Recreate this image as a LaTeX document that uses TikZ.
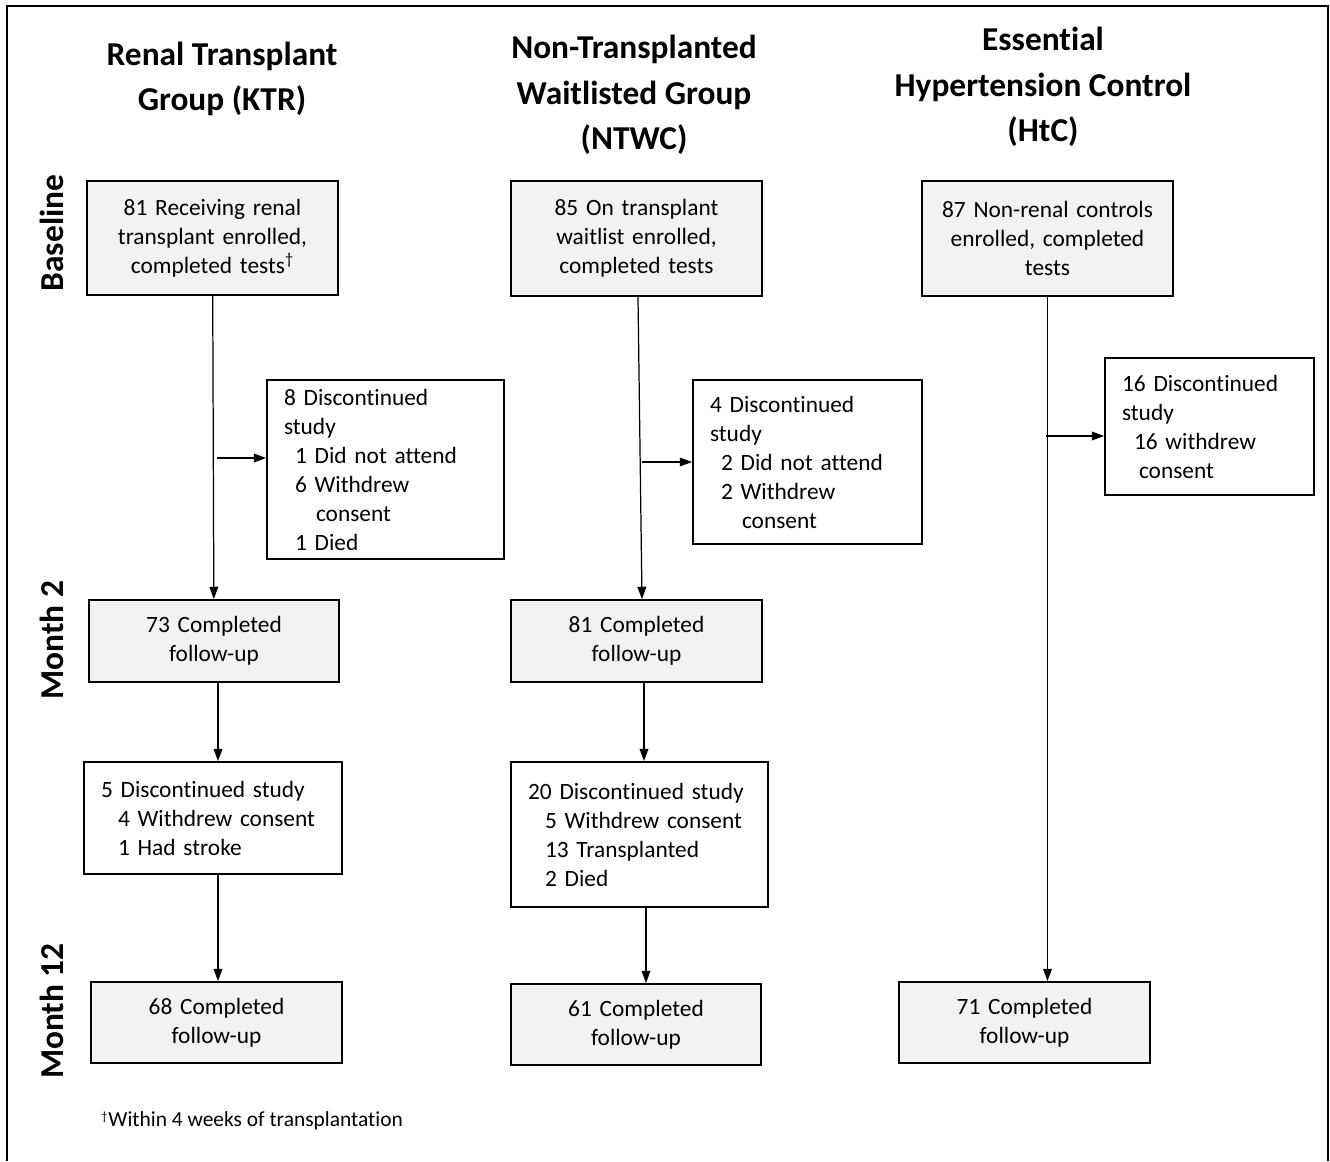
\documentclass[tikz,border=0pt]{standalone}
\usepackage{fontspec}
\setmainfont[Ligatures=NoCommon]{Carlito}
\usetikzlibrary{arrows.meta}
\definecolor{boxgrey}{HTML}{F2F2F2}

\begin{document}
\begin{tikzpicture}[
            x = 0.02cm, y = -0.02cm, % one unit = one pixel of the figure
            > = {Triangle[length=7pt,width=5pt]}, % arrow head style
            line width = 0.7pt, % line style
            every node/.style = {font=\fontsize{13.3}{16.5}\selectfont},
            greybox/.style = {draw=black, line width=1.1pt, fill=boxgrey, align=center, inner xsep=0.16cm},
            dropbox/.style = {draw=black, line width=1.1pt, fill=white, align=left, inner xsep=0.34cm},
            heading/.style = {font=\fontsize{19}{26}\selectfont\bfseries, align=center},
            phase/.style = {font=\fontsize{19}{22}\selectfont\bfseries, rotate=90}
        ]

\useasboundingbox (0,0) rectangle (1330,1161);
\draw[line width=1.2pt] (7,1161) -- (7,6) -- (1328,6) -- (1328,1161);

% column headings
\node[heading] (ktrhead) at (222,79) {Renal Transplant\\Group (KTR)};
\node[heading] (ntwchead) at (634,95) {Non-Transplanted\\Waitlisted Group\\(NTWC)};
\node[heading] (htchead) at (1043,87) {Essential\\Hypertension Control\\(HtC)};

% time points
\node[phase] (baseline) at (52,233) {Baseline};
\node[phase] (month2) at (52,640) {Month 2};
\node[phase] (month12) at (52,1011) {Month 12};

% baseline
\node[greybox, text width=4.7cm, minimum height=2.28cm] (ktrbase) at (212.5,238) {81 Receiving renal\\transplant enrolled,\\completed tests\textsuperscript{†}};
\node[greybox, text width=4.7cm, minimum height=2.3cm] (ntwcbase) at (636.5,238.5) {85 On transplant\\waitlist enrolled,\\completed tests};
\node[greybox, text width=4.7cm, minimum height=2.3cm] (htcbase) at (1047.5,238.5) {87 Non-renal controls\\enrolled, completed\\tests};

% dropped out before month 2
\node[dropbox, text width=4.06cm, minimum height=3.58cm] (ktrdrop) at (385.5,469.5) {8 Discontinued\\study\\\hspace*{0.22cm}1 Did not attend\\\hspace*{0.22cm}6 Withdrew\\\hspace*{0.64cm}consent\\\hspace*{0.22cm}1 Died};
\node[dropbox, text width=3.90cm, minimum height=3.28cm] (ntwcdrop) at (807.5,462) {4 Discontinued\\study\\\hspace*{0.22cm}2 Did not attend\\\hspace*{0.22cm}2 Withdrew\\\hspace*{0.64cm}consent};
\node[dropbox, text width=3.50cm, minimum height=2.74cm] (htcdrop) at (1209.5,426.5) {16 Discontinued\\study\\\hspace*{0.24cm}16 withdrew\\\hspace*{0.34cm}consent};

% month 2
\node[greybox, text width=4.68cm, minimum height=1.64cm] (ktrm2) at (214,641) {73 Completed\\follow-up};
\node[greybox, text width=4.7cm, minimum height=1.64cm] (ntwcm2) at (636.5,641) {81 Completed\\follow-up};

% dropped out before month 12
\node[dropbox, text width=4.48cm, minimum height=2.24cm] (ktrdisc) at (213,818) {5 Discontinued study\\\hspace*{0.34cm}4 Withdrew consent\\\hspace*{0.34cm}1 Had stroke};
\node[dropbox, text width=4.46cm, minimum height=2.9cm] (ntwcdisc) at (639.5,834.5) {20 Discontinued study\\\hspace*{0.34cm}5 Withdrew consent\\\hspace*{0.34cm}13 Transplanted\\\hspace*{0.34cm}2 Died};

% month 12
\node[greybox, text width=4.7cm, minimum height=1.62cm] (ktrm12) at (216.5,1022.5) {68 Completed\\follow-up};
\node[greybox, text width=4.68cm, minimum height=1.62cm] (ntwcm12) at (636,1024.5) {61 Completed\\follow-up};
\node[greybox, text width=4.7cm, minimum height=1.62cm] (htcm12) at (1024.5,1022.5) {71 Completed\\follow-up};

\node[anchor=west, font=\fontsize{12.2}{15}\selectfont] (note) at (95,1121) {{\fontsize{10}{12}\selectfont\textsuperscript{†}}Within 4 weeks of transplantation};

\coordinate (ktrsplit) at (217,458);
\coordinate (ntwcsplit) at (642,462);
\coordinate (htcsplit) at (1046,436);

 \path [->] (ktrbase) edge (ktrm2);
 \path [->] (ntwcbase.south -| 638,0) edge (ntwcm2.north -| 642,0);
 \path [->] (htcbase.south) edge (htcbase.south |- htcm12.north);
 \path [->] (ktrsplit) edge (ktrsplit -| ktrdrop.west);
 \path [->] (ntwcsplit) edge (ntwcsplit -| ntwcdrop.west);
 \path [->] (htcsplit) edge (htcsplit -| htcdrop.west);
 \path [->] (ktrm2.south -| 218,0) edge (ktrdisc.north -| 218,0);
 \path [->] (ntwcm2.south -| 644,0) edge (ntwcdisc.north -| 644,0);
 \path [->] (ktrdisc.south -| 218,0) edge (ktrm12.north -| 218,0);
 \path [->] (ntwcdisc.south -| 646,0) edge (ntwcm12.north -| 646,0);
\end{tikzpicture}
\end{document}
